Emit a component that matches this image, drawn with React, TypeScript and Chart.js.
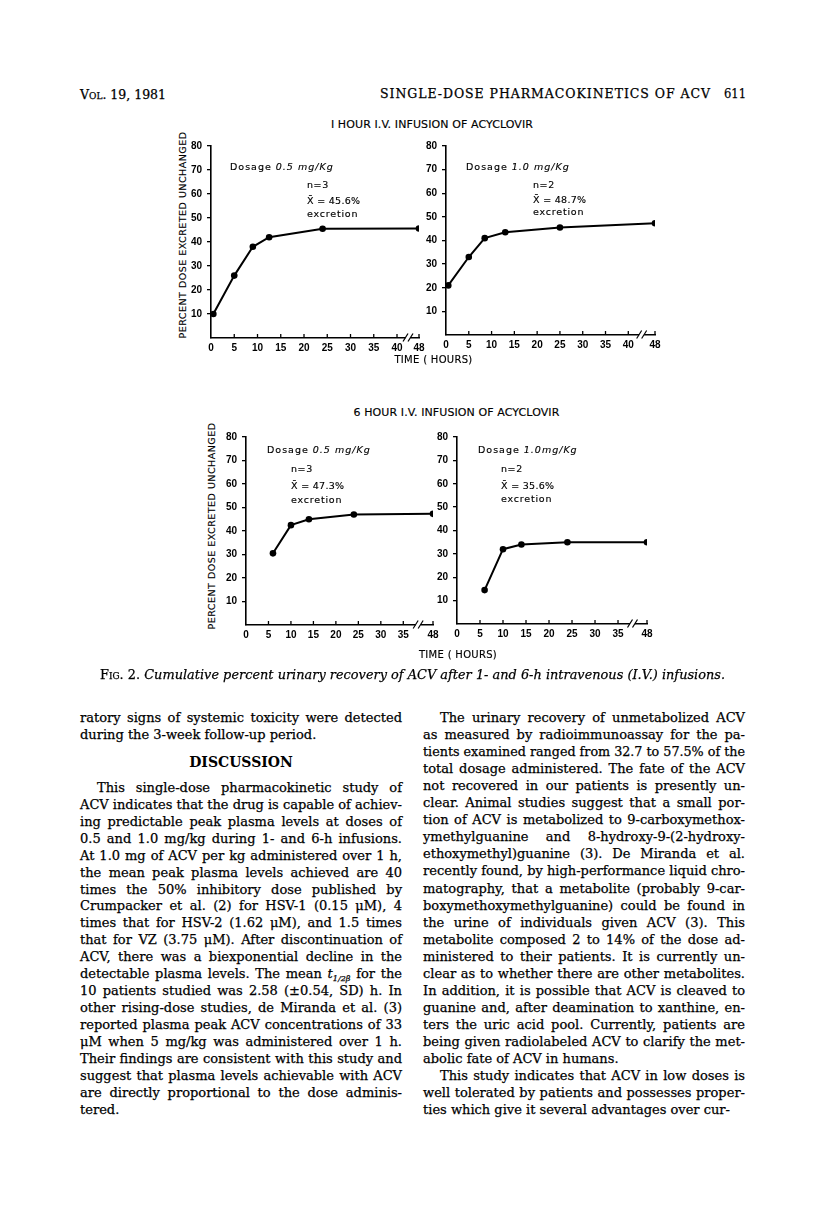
import React, { useEffect, useLayoutEffect, useRef } from "react";
import { Chart, registerables } from "chart.js";
Chart.register(...registerables);

// ---------- chart data ----------
const yTickValues = [10, 20, 30, 40, 50, 60, 70, 80];
const xTickLabels1h = [0, 5, 10, 15, 20, 25, 30, 35, 40, 48];
const xTickLabels6h = [0, 5, 10, 15, 20, 25, 30, 35, 48];

const hours1hLow = [0.5, 5, 9, 12.5, 24, 48];
const pct1hLow = [10, 26, 38, 42, 45.5, 45.6];
const hours1hHigh = [0.5, 5, 8.5, 13, 25, 48];
const pct1hHigh = [21, 33, 41, 43.5, 45.5, 47.3];
const hours6hLow = [6, 10, 14, 24, 48];
const pct6hLow = [30.5, 42.5, 45, 47, 47.3];
const hours6hHigh = [6, 10, 14, 24, 48];
const pct6hHigh = [14.5, 32, 34, 35, 35];

const panelDosage = ["0.5 mg/Kg", "1.0 mg/Kg", "0.5 mg/Kg", "1.0mg/Kg"];
const panelN = ["n=3", "n=2", "n=3", "n=2"];
const panelMean = ["45.6%", "48.7%", "47.3%", "35.6%"];
const panelTitles = ["I HOUR I.V. INFUSION OF ACYCLOVIR", "6 HOUR I.V. INFUSION OF ACYCLOVIR"];
const yAxisTitle = "PERCENT DOSE EXCRETED UNCHANGED";
const xAxisTitle = "TIME ( HOURS)";

// ---------- page text ----------
const leftTop = [
  "ratory signs of systemic toxicity were detected",
  "during the 3-week follow-up period.",
];
const leftPara = [
  "This single-dose pharmacokinetic study of",
  "ACV indicates that the drug is capable of achiev-",
  "ing predictable peak plasma levels at doses of",
  "0.5 and 1.0 mg/kg during 1- and 6-h infusions.",
  "At 1.0 mg of ACV per kg administered over 1 h,",
  "the mean peak plasma levels achieved are 40",
  "times the 50% inhibitory dose published by",
  "Crumpacker et al. (2) for HSV-1 (0.15 \u03bcM), 4",
  "times that for HSV-2 (1.62 \u03bcM), and 1.5 times",
  "that for VZ (3.75 \u03bcM). After discontinuation of",
  "ACV, there was a biexponential decline in the",
  "detectable plasma levels. The mean \u00a7 for the",
  "10 patients studied was 2.58 (\u00b10.54, SD) h. In",
  "other rising-dose studies, de Miranda et al. (3)",
  "reported plasma peak ACV concentrations of 33",
  "\u03bcM when 5 mg/kg was administered over 1 h.",
  "Their findings are consistent with this study and",
  "suggest that plasma levels achievable with ACV",
  "are directly proportional to the dose adminis-",
  "tered.",
];
const rightPara1 = [
  "The urinary recovery of unmetabolized ACV",
  "as measured by radioimmunoassay for the pa-",
  "tients examined ranged from 32.7 to 57.5% of the",
  "total dosage administered. The fate of the ACV",
  "not recovered in our patients is presently un-",
  "clear. Animal studies suggest that a small por-",
  "tion of ACV is metabolized to 9-carboxymethox-",
  "ymethylguanine and 8-hydroxy-9-(2-hydroxy-",
  "ethoxymethyl)guanine (3). De Miranda et al.",
  "recently found, by high-performance liquid chro-",
  "matography, that a metabolite (probably 9-car-",
  "boxymethoxymethylguanine) could be found in",
  "the urine of individuals given ACV (3). This",
  "metabolite composed 2 to 14% of the dose ad-",
  "ministered to their patients. It is currently un-",
  "clear as to whether there are other metabolites.",
  "In addition, it is possible that ACV is cleaved to",
  "guanine and, after deamination to xanthine, en-",
  "ters the uric acid pool. Currently, patients are",
  "being given radiolabeled ACV to clarify the met-",
  "abolic fate of ACV in humans.",
];
const rightPara2 = [
  "This study indicates that ACV in low doses is",
  "well tolerated by patients and possesses proper-",
  "ties which give it several advantages over cur-",
];

// ---------- layout ----------
const SANS = "'DejaVu Sans', 'Liberation Sans', sans-serif";
const TICKFONT = "'Liberation Sans', Arial, sans-serif";
const SERIF = "'DejaVu Serif', serif";
const INK = "0.25px #000";
const SANS_INK = "0.15px #000";

const geos = [
  { left: 211, right: 419, top: 145, bottom: 338, breakAt: 40, gap: 4.73 },
  { left: 446, right: 655, top: 145, bottom: 335, breakAt: 40, gap: 5.86 },
  { left: 246, right: 433, top: 436, bottom: 625, breakAt: 35, gap: 6.61 },
  { left: 457, right: 647, top: 436, bottom: 624, breakAt: 35, gap: 6.3 },
];
const annoPos = [
  { dx: 230, dy: 167, nx: 307, ny: 185, my: 200.5, ey: 213.5 },
  { dx: 466, dy: 166.5, nx: 533, ny: 185, my: 199.5, ey: 212 },
  { dx: 267, dy: 450, nx: 291, ny: 469, my: 486, ey: 499.5 },
  { dx: 478, dy: 449.5, nx: 501, ny: 469, my: 486, ey: 499 },
];

const decorPlugin = {
  id: "decor",
  afterDraw(chart: any, _args: any, opts: any) {
    const { ctx } = chart;
    const xs = chart.scales.x;
    const y0 = chart.chartArea.bottom;
    ctx.save();
    ctx.strokeStyle = "#000";
    ctx.lineWidth = 1.3;
    for (const t of xs.ticks) {
      if (t.value === 0) continue;
      const x = xs.getPixelForValue(t.value);
      ctx.beginPath();
      ctx.moveTo(x, y0);
      ctx.lineTo(x, y0 - 4);
      ctx.stroke();
    }
    const bx = xs.getPixelForValue(opts.breakVal);
    ctx.fillStyle = "#fff";
    ctx.fillRect(bx - 2.5, y0 - 2, 5, 4);
    ctx.lineWidth = 1.2;
    for (const off of [-2.5, 2.5]) {
      ctx.beginPath();
      ctx.moveTo(bx + off - 2.5, y0 + 3.5);
      ctx.lineTo(bx + off + 2.5, y0 - 4.5);
      ctx.stroke();
    }
    ctx.restore();
  },
};

function Panel({ hours, pct, xTicks, geo }: any) {
  const ref = useRef<HTMLCanvasElement>(null);
  const padL = 34, padR = 16, padT = 10, padB = 26;
  const W = geo.right - geo.left + padL + padR;
  const H = geo.bottom - geo.top + padT + padB;
  useEffect(() => {
    const map = (h: number) =>
      h <= geo.breakAt ? h : geo.breakAt + (geo.gap * (h - geo.breakAt)) / (48 - geo.breakAt);
    const font = { family: TICKFONT, size: 10, weight: "bold" as const };
    const chart = new Chart(ref.current as HTMLCanvasElement, {
      type: "line",
      data: {
        datasets: [
          {
            data: hours.map((h: number, i: number) => ({ x: map(h), y: pct[i] })),
            borderColor: "#000",
            backgroundColor: "#000",
            borderWidth: 2,
            pointRadius: 3.3,
            pointBorderWidth: 0,
            pointBackgroundColor: "#000",
            tension: 0,
          },
        ],
      },
      options: {
        responsive: false,
        animation: false,
        devicePixelRatio: 1,
        layout: { padding: { left: 0, top: padT, right: padR, bottom: 0 } },
        plugins: {
          legend: { display: false },
          tooltip: { enabled: false },
          decor: { breakVal: geo.breakAt + geo.gap * 0.5 },
        } as any,
        scales: {
          x: {
            type: "linear",
            min: 0,
            max: map(48),
            afterBuildTicks: (s: any) => {
              s.ticks = xTicks.map((v: number) => ({ value: map(v) }));
            },
            afterFit: (s: any) => {
              s.height = padB;
            },
            ticks: {
              autoSkip: false,
              maxRotation: 0,
              minRotation: 0,
              padding: 4,
              color: "#000",
              font,
              callback: (_v: any, i: number) => String(xTicks[i]),
            },
            grid: { display: true, drawOnChartArea: false, drawTicks: false },
            border: { display: true, color: "#000", width: 1.6 },
          },
          y: {
            type: "linear",
            min: 0,
            max: 80,
            afterBuildTicks: (s: any) => {
              s.ticks = yTickValues.map((v) => ({ value: v }));
            },
            afterFit: (s: any) => {
              s.width = padL;
            },
            ticks: { padding: 5, color: "#000", font, callback: (v: any) => String(v) },
            grid: {
              display: true,
              drawOnChartArea: false,
              drawTicks: true,
              tickLength: 4,
              color: "#000",
              lineWidth: 1.3,
            },
            border: { display: true, color: "#000", width: 1.6 },
          },
        },
      },
      plugins: [decorPlugin],
    });
    return () => chart.destroy();
  }, []);
  return (
    <canvas
      ref={ref}
      width={W}
      height={H}
      style={{ position: "absolute", left: geo.left - padL, top: geo.top - padT, width: W, height: H }}
    />
  );
}

const T = ({ x, y, children, style }: any) => (
  <div
    style={{
      position: "absolute",
      left: x,
      top: y - 7,
      lineHeight: "14px",
      whiteSpace: "nowrap",
      fontFamily: SANS,
      fontSize: 9.5,
      color: "#000",
      WebkitTextStroke: SANS_INK,
      ...style,
    }}
  >
    {children}
  </div>
);

const C = ({ cx, y, children, style }: any) => (
  <div
    style={{
      position: "absolute",
      left: cx - 200,
      width: 400,
      top: y - 7,
      lineHeight: "14px",
      textAlign: "center",
      whiteSpace: "nowrap",
      fontFamily: SANS,
      fontSize: 9.5,
      color: "#000",
      WebkitTextStroke: SANS_INK,
      ...style,
    }}
  >
    {children}
  </div>
);

function rich(text: string) {
  if (!text.includes("\u00a7")) return text;
  const [a, b] = text.split("\u00a7");
  return (
    <>
      {a}
      <i>t</i>
      <sub style={{ fontSize: "0.62em", fontStyle: "italic", lineHeight: 0, verticalAlign: "-0.35em" }}>
        {"1/2\u03b2"}
      </sub>
      {b}
    </>
  );
}

function Line({ x, y, w, text, just, mode, style }: any) {
  return (
    <div
      style={{
        position: "absolute",
        left: x,
        top: y - 9,
        height: 18,
        lineHeight: "18px",
        whiteSpace: "nowrap",
        fontFamily: SERIF,
        fontSize: 13,
        color: "#000",
        WebkitTextStroke: INK,
        ...style,
      }}
    >
      <span
        className="fit"
        data-w={w}
        data-j={just ? "1" : "0"}
        data-m={mode || "ws"}
        style={{ display: "inline-block", transformOrigin: "left center" }}
      >
        {rich(text)}
      </span>
    </div>
  );
}

function fitAll() {
  document.querySelectorAll<HTMLElement>(".fit").forEach((el) => {
    el.style.wordSpacing = "0px";
    el.style.letterSpacing = "0px";
    el.style.transform = "none";
    const nat = el.getBoundingClientRect().width;
    const target = Number(el.dataset.w);
    const txt = el.textContent || "";
    const spaces = txt.split(" ").length - 1;
    if (nat > target) el.style.transform = `scaleX(${target / nat})`;
    else if (el.dataset.j === "1") {
      if (el.dataset.m === "ls") el.style.letterSpacing = `${(target - nat) / Math.max(1, txt.length - 1)}px`;
      else if (spaces > 0) el.style.wordSpacing = `${(target - nat) / spaces}px`;
    }
  });
}

function Column({ lines, x, w, y0, step, indentFirst }: any) {
  return (
    <>
      {lines.map((t: string, i: number) => {
        const ind = indentFirst && i === 0 ? 17 : 0;
        return (
          <Line
            key={i}
            x={x + ind}
            w={w - ind}
            y={y0 + i * step}
            text={t}
            just={i !== lines.length - 1}
          />
        );
      })}
    </>
  );
}

export default function App() {
  useLayoutEffect(() => {
    fitAll();
    const f: any = (document as any).fonts;
    if (f && f.ready) f.ready.then(fitAll);
  }, []);

  const LX = 80, LW = 322, RX = 423, RW = 322;
  const STEP = 16.97;

  return (
    <div
      style={{
        position: "absolute",
        left: 0,
        top: 0,
        width: 816,
        height: 1210,
        overflow: "hidden",
        background: "#fff",
        color: "#000",
      }}
    >
      {/* running head */}
      <Line x={80} y={95} w={200} text="Vol. 19, 1981" style={{ fontVariant: "small-caps", fontSize: 12.5 }} />
      <Line x={380} y={94} w={330} text="SINGLE-DOSE PHARMACOKINETICS OF ACV" just mode="ls" style={{ fontSize: 12.5 }} />
      <Line x={724} y={93} w={22} text="611" just mode="ls" style={{ fontSize: 13.5 }} />

      {/* chart titles */}
      <C cx={432} y={125} style={{ fontSize: 11, letterSpacing: "0.1px" }}>{panelTitles[0]}</C>
      <C cx={456.5} y={413} style={{ fontSize: 11, letterSpacing: "0.1px" }}>{panelTitles[1]}</C>

      {/* y axis titles */}
      {[
        { cx: 183, cy: 235 },
        { cx: 212, cy: 526 },
      ].map((p, i) => (
        <div
          key={i}
          style={{
            position: "absolute",
            left: p.cx - 120,
            top: p.cy - 7,
            width: 240,
            height: 14,
            lineHeight: "14px",
            textAlign: "center",
            transform: "rotate(-90deg)",
            fontFamily: SANS,
            fontSize: 9.5,
            letterSpacing: "0.5px",
            whiteSpace: "nowrap",
            WebkitTextStroke: SANS_INK,
          }}
        >
          {yAxisTitle}
        </div>
      ))}

      {/* panels */}
      <Panel hours={hours1hLow} pct={pct1hLow} xTicks={xTickLabels1h} geo={geos[0]} />
      <Panel hours={hours1hHigh} pct={pct1hHigh} xTicks={xTickLabels1h} geo={geos[1]} />
      <Panel hours={hours6hLow} pct={pct6hLow} xTicks={xTickLabels6h} geo={geos[2]} />
      <Panel hours={hours6hHigh} pct={pct6hHigh} xTicks={xTickLabels6h} geo={geos[3]} />

      {/* annotations */}
      {annoPos.map((a, i) => (
        <React.Fragment key={i}>
          <T x={a.dx} y={a.dy} style={{ letterSpacing: "1px" }}>
            Dosage <i>{panelDosage[i]}</i>
          </T>
          <T x={a.nx} y={a.ny} style={{ letterSpacing: "0.6px" }}>{panelN[i]}</T>
          <T x={a.nx} y={a.my} style={{ letterSpacing: "0.3px" }}>
            X{"\u0304"} = {panelMean[i]}
          </T>
          <T x={a.nx} y={a.ey} style={{ letterSpacing: "0.8px" }}>excretion</T>
        </React.Fragment>
      ))}

      {/* x axis titles */}
      <C cx={433.5} y={360} style={{ fontSize: 10, letterSpacing: "0.3px" }}>{xAxisTitle}</C>
      <C cx={458} y={655} style={{ fontSize: 10, letterSpacing: "0.3px" }}>{xAxisTitle}</C>

      {/* caption */}
      <div
        style={{
          position: "absolute",
          left: 100,
          top: 666,
          width: 625,
          lineHeight: "18px",
          whiteSpace: "nowrap",
          fontFamily: SERIF,
          fontSize: 13,
          WebkitTextStroke: INK,
        }}
      >
        <span className="fit" data-w={625} data-j="1" data-m="ws" style={{ display: "inline-block", transformOrigin: "left center" }}>
          <span style={{ fontVariant: "small-caps" }}>Fig. 2.</span>{" "}
          <i>Cumulative percent urinary recovery of ACV after 1- and 6-h intravenous (I.V.) infusions.</i>
        </span>
      </div>

      {/* left column */}
      <Column lines={leftTop} x={LX} w={LW} y0={718} step={17.3} indentFirst={false} />
      <div
        style={{
          position: "absolute",
          left: LX,
          width: LW,
          top: 752,
          lineHeight: "20px",
          textAlign: "center",
          fontFamily: SERIF,
          fontWeight: "bold",
          fontSize: 14,
        }}
      >
        DISCUSSION
      </div>
      <Column lines={leftPara} x={LX} w={LW} y0={787.7} step={STEP} indentFirst />

      {/* right column */}
      <Column lines={rightPara1} x={RX} w={RW} y0={718.3} step={17.02} indentFirst />
      <Column
        lines={rightPara2}
        x={RX}
        w={RW}
        y0={718.3 + 21 * 17.02}
        step={17.02}
        indentFirst
      />
    </div>
  );
}
